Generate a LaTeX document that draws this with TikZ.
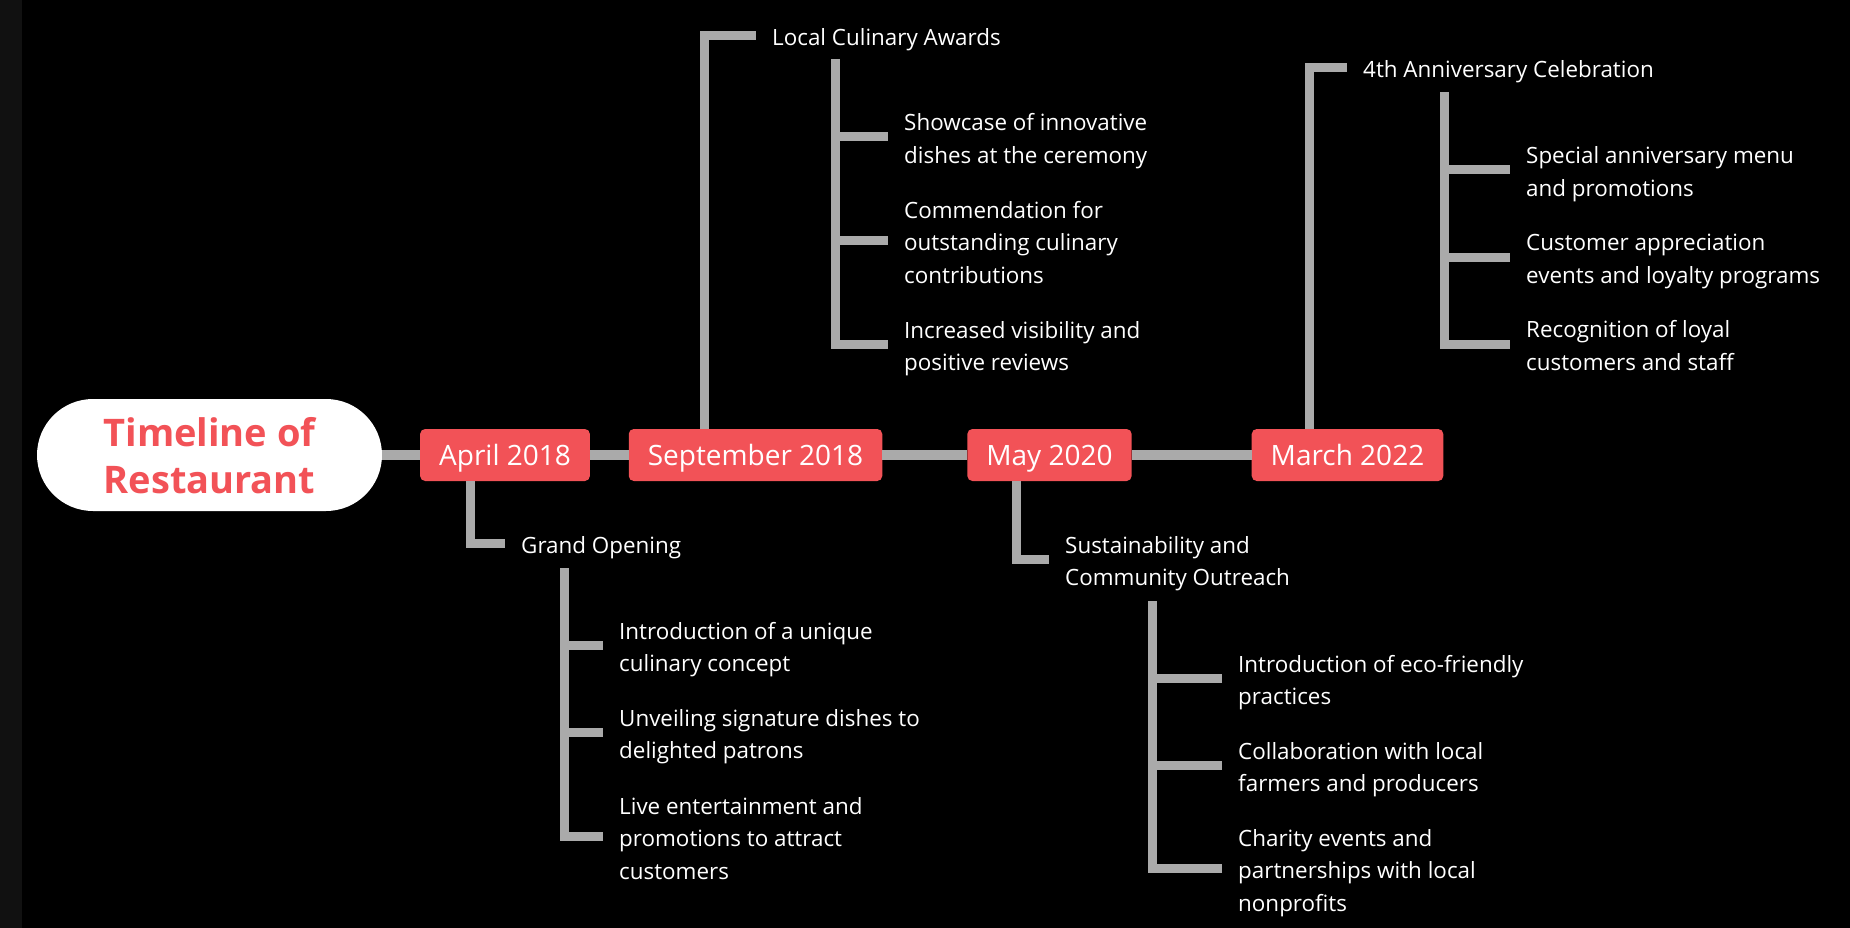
\documentclass[tikz,border=0pt]{standalone}
\usepackage{fontspec}
\setmainfont{Open Sans}
\usetikzlibrary{calc}
\definecolor{tlred}{RGB}{242,82,87}
\definecolor{tlgray}{RGB}{170,170,170}
\definecolor{tlstrip}{RGB}{17,17,17}
\begin{document}
\begin{tikzpicture}[x=1pt,y=-1pt,
  headline/.style={fill=white,text=tlred,rounded corners=56pt,minimum width=345pt,minimum height=112pt,
    inner sep=0pt,align=center,font=\bfseries\fontsize{38}{47}\selectfont,text height=85pt,text depth=9pt},
  datebox/.style={fill=tlred,text=white,rounded corners=5pt,minimum height=52pt,inner xsep=19pt,inner ysep=0pt,
    font=\fontsize{28}{34}\selectfont,text height=20pt,text depth=0pt},
  entry/.style={anchor=west,text=white,align=left,inner sep=0pt,font=\fontsize{22.4}{32.5}\selectfont,
    text depth=6.25pt,text height=#1*32.5pt-6.25pt},
  entry/.default=1,
  spine/.style={draw=tlgray,line width=10pt},
  branch/.style={draw=tlgray,line width=9pt,line join=miter}]
\fill[black] (0,0) rectangle (1850,928);
\fill[tlstrip] (0,0) rectangle (22,928);

\node[headline] (head) at (209.5,455) {Timeline of\\Restaurant};

\node[datebox] (apr) at (505,455) {April 2018};
\node[datebox] (sep) at (755.5,455) {September 2018};
\node[datebox] (may) at (1049.5,455) {May 2020};
\node[datebox] (mar) at (1347.5,455) {March 2022};

\node[entry] (go) at (521,543) {Grand Opening};
\node[entry] (lca) at (772,35.5) {Local Culinary Awards};
\node[entry=2] (sco) at (1065,559.5) {Sustainability and\\Community Outreach};
\node[entry] (ann) at (1363,67.5) {4th Anniversary Celebration};

\node[entry=2] (go1) at (619,645.5) {Introduction of a unique\\culinary concept};
\node[entry=2] (go2) at (619,732.5) {Unveiling signature dishes to\\delighted patrons};
\node[entry=3] (go3) at (619,836.5) {Live entertainment and\\promotions to attract\\customers};

\node[entry=2] (lca1) at (904,137) {Showcase of innovative\\dishes at the ceremony};
\node[entry=3] (lca2) at (904,241) {Commendation for\\outstanding culinary\\contributions};
\node[entry=2] (lca3) at (904,344.5) {Increased visibility and\\positive reviews};

\node[entry=2] (sco1) at (1238,678.5) {Introduction of eco-friendly\\practices};
\node[entry=2] (sco2) at (1238,765.5) {Collaboration with local\\farmers and producers};
\node[entry=3] (sco3) at (1238,868.5) {Charity events and\\partnerships with local\\nonprofits};

\node[entry=2] (ann1) at (1526,170) {Special anniversary menu\\and promotions};
\node[entry=2] (ann2) at (1526,257) {Customer appreciation\\events and loyalty programs};
\node[entry=2] (ann3) at (1526,344) {Recognition of loyal\\customers and staff};

\coordinate (gov) at ($(go.west)+(43.5,25)$);
\coordinate (lcav) at ($(lca.west)+(63.5,23.5)$);
\coordinate (scov) at ($(sco.west)+(87.5,41.5)$);
\coordinate (annv) at ($(ann.west)+(81.5,24.5)$);

\draw[spine] (head) -- (apr) -- (sep) -- (may) -- (mar);

\draw[branch] ($(apr.south west)!0.3!(apr.south east)$) |- ([xshift=-16pt]go.west);
\draw[branch] ($(sep.north west)!0.3!(sep.north east)$) |- ([xshift=-16pt]lca.west);
\draw[branch] ($(may.south west)!0.3!(may.south east)$) |- ([xshift=-16pt]sco.west);
\draw[branch] ($(mar.north west)!0.3!(mar.north east)$) |- ([xshift=-16pt]ann.west);

\foreach \p/\v in {go/gov,lca/lcav,sco/scov,ann/annv}{
  \draw[branch] (\v) |- ([xshift=-16pt]\p3.west);
  \foreach \i in {1,2}
    \draw[branch] (\v |- \p\i.west) -- ([xshift=-16pt]\p\i.west);
}
\end{tikzpicture}
\end{document}
